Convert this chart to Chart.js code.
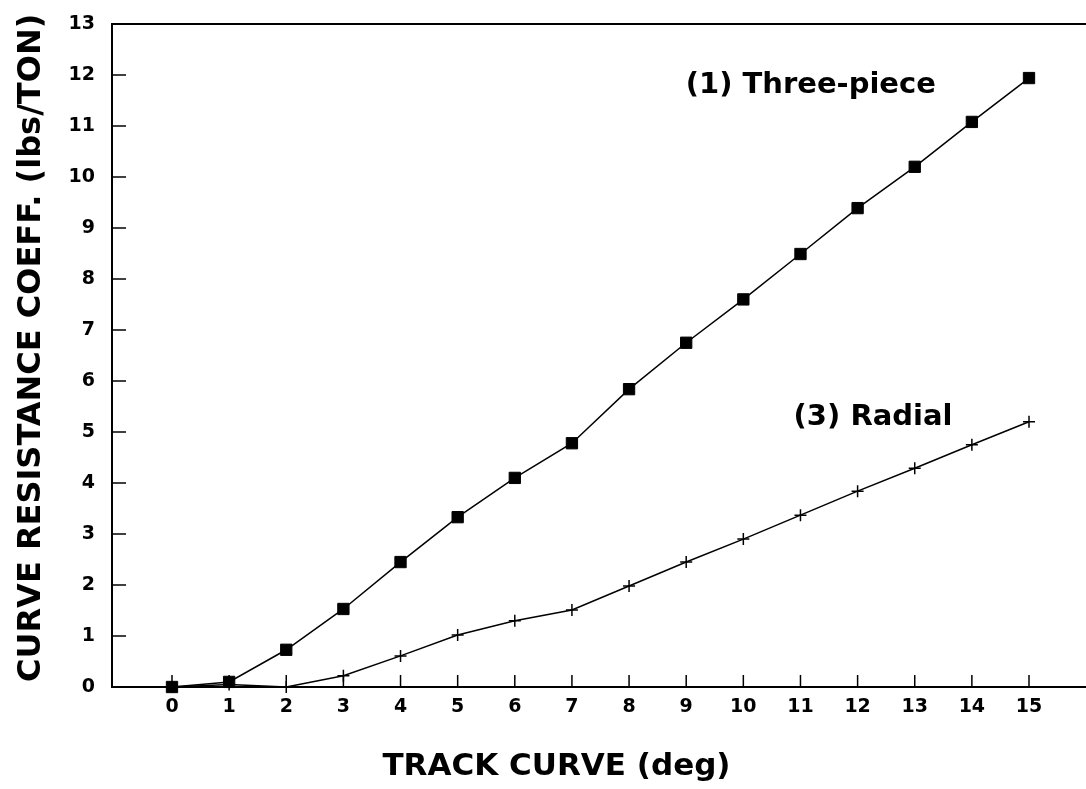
<!DOCTYPE html>
<html>
<head>
<meta charset="utf-8">
<script src="https://cdn.jsdelivr.net/npm/chart.js@4"></script>
<style>
    html, body { margin: 0; padding: 0; background: #fff; overflow: hidden; }
</style>
</head>
<body>
<canvas id="curve-chart" width="1086" height="789"></canvas>
<script>
const trackCurve = [0, 1, 2, 3, 4, 5, 6, 7, 8, 9, 10, 11, 12, 13, 14, 15];
const threePiece = [0, 0.1, 0.73, 1.53, 2.45, 3.33, 4.1, 4.78, 5.84, 6.75, 7.6, 8.49, 9.39, 10.2, 11.08, 11.94];
const radial = [0, 0.05, 0, 0.22, 0.61, 1.02, 1.3, 1.51, 1.98, 2.45, 2.9, 3.37, 3.84, 4.29, 4.75, 5.2];
const xTicks = [0, 1, 2, 3, 4, 5, 6, 7, 8, 9, 10, 11, 12, 13, 14, 15];
const yTicks = [0, 1, 2, 3, 4, 5, 6, 7, 8, 9, 10, 11, 12, 13];
const xTitle = "TRACK CURVE (deg)";
const yTitle = "CURVE RESISTANCE COEFF. (lbs/TON)";
// label anchors in data units (x, y of the text baseline)
const curveLabels = [
    { text: "(1) Three-piece", x: 13.37, y: 11.65, align: "right" },
    { text: "(3) Radial", x: 10.88, y: 5.14, align: "left" }
];

const fontFamily = "'DejaVu Sans', Verdana, sans-serif";

function toPoints(xs, ys) {
    return xs.map((x, i) => ({ x: x, y: ys[i] }));
}

// axis lines, inward ticks, axis titles and the curve labels
const framePlugin = {
    id: "frame",
    afterDatasetsDraw(chart) {
        const ctx = chart.ctx;
        const xScale = chart.scales.x;
        const yScale = chart.scales.y;
        const area = chart.chartArea;

        ctx.save();
        ctx.strokeStyle = "#000";
        ctx.lineWidth = 2;
        ctx.beginPath();
        ctx.moveTo(area.left - 1, area.top);
        ctx.lineTo(chart.width, area.top);
        ctx.moveTo(area.left - 1, area.bottom);
        ctx.lineTo(chart.width, area.bottom);
        ctx.stroke();

        ctx.lineWidth = 1.5;
        yTicks.forEach((v) => {
            const py = yScale.getPixelForValue(v);
            ctx.beginPath();
            ctx.moveTo(area.left, py);
            ctx.lineTo(area.left + 14, py);
            ctx.stroke();
        });
        xTicks.forEach((v) => {
            const px = xScale.getPixelForValue(v);
            ctx.beginPath();
            ctx.moveTo(px, area.bottom);
            ctx.lineTo(px, area.bottom - 12);
            ctx.stroke();
        });

        ctx.fillStyle = "#000";
        ctx.textBaseline = "alphabetic";

        ctx.font = "bold 29px " + fontFamily;
        curveLabels.forEach((lbl) => {
            ctx.textAlign = lbl.align;
            ctx.fillText(lbl.text, xScale.getPixelForValue(lbl.x), yScale.getPixelForValue(lbl.y));
        });

        ctx.textAlign = "center";
        ctx.font = "bold 31px " + fontFamily;
        ctx.fillText(xTitle, xScale.getPixelForValue(6.73), area.bottom + 88);

        ctx.font = "bold 32px " + fontFamily;
        ctx.translate(40, yScale.getPixelForValue(6.65));
        ctx.rotate(-Math.PI / 2);
        ctx.fillText(yTitle, 0, 0);
        ctx.restore();
    }
};

const chart = new Chart(document.getElementById("curve-chart"), {
    type: "scatter",
    data: {
        datasets: [
            {
                label: "(1) Three-piece",
                data: toPoints(trackCurve, threePiece),
                showLine: true,
                borderColor: "#000",
                borderWidth: 1.5,
                pointStyle: "rect",
                pointRadius: 8,
                pointBackgroundColor: "#000",
                pointBorderColor: "#000",
                pointBorderWidth: 1
            },
            {
                label: "(3) Radial",
                data: toPoints(trackCurve, radial),
                showLine: true,
                borderColor: "#000",
                borderWidth: 1.5,
                pointStyle: "cross",
                pointRadius: 6,
                pointBorderColor: "#000",
                pointBorderWidth: 1.5
            }
        ]
    },
    options: {
        responsive: false,
        animation: false,
        clip: false,
        layout: { padding: { top: 24, right: 0, left: 0, bottom: 0 } },
        plugins: {
            legend: { display: false },
            tooltip: { enabled: false }
        },
        scales: {
            x: {
                type: "linear",
                min: -1.05,
                max: 15.84,
                afterBuildTicks: (scale) => {
                    scale.ticks = xTicks.map((v) => ({ value: v }));
                },
                afterFit: (scale) => {
                    scale.height = 102;
                    scale.paddingLeft = 0;
                    scale.paddingRight = 0;
                },
                grid: { display: false, drawTicks: false },
                border: { display: false },
                ticks: {
                    color: "#000",
                    padding: 9,
                    font: { family: fontFamily, size: 19, weight: "bold" }
                }
            },
            y: {
                type: "linear",
                min: 0,
                max: 13,
                afterBuildTicks: (scale) => {
                    scale.ticks = yTicks.map((v) => ({ value: v }));
                },
                afterFit: (scale) => {
                    scale.width = 112;
                    scale.paddingTop = 0;
                    scale.paddingBottom = 0;
                },
                grid: { display: false, drawTicks: false },
                border: { display: true, color: "#000", width: 2 },
                ticks: {
                    color: "#000",
                    padding: 17,
                    font: { family: fontFamily, size: 19, weight: "bold" }
                }
            }
        }
    },
    plugins: [framePlugin]
});
</script>
</body>
</html>
